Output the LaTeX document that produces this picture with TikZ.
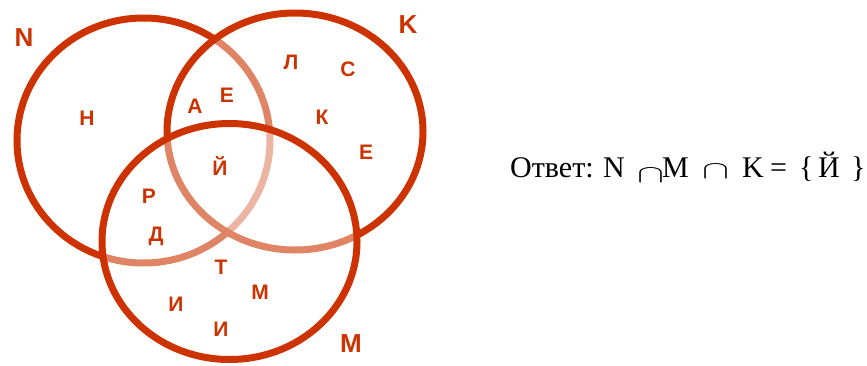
\documentclass[tikz,border=0pt]{standalone}
\usepackage{fontspec}
\setmainfont{Liberation Serif}
\newfontfamily\vennfont{Liberation Sans}
\usepackage{graphicx}
\usepackage{tikz}

\definecolor{vennred}{HTML}{CC3300}
\newcommand{\capsign}{\resizebox{27pt}{14pt}{$\cap$}}

\tikzset{
  ring/.style={draw=vennred, line width=7pt},
  veil/.style={fill=white, fill opacity=0.4},
  letter/.style={text=vennred, inner sep=0pt, font=\vennfont\bfseries\fontsize{21}{21}\selectfont},
  setname/.style={text=vennred, inner sep=0pt, font=\vennfont\bfseries\fontsize{26}{26}\selectfont},
  answer/.style={anchor=base west, inner sep=0pt, font=\fontsize{30}{30}\selectfont},
}

\begin{document}
\begin{tikzpicture}[x=1pt, y=-1pt]
		\useasboundingbox (0,0) rectangle (867,365);
		% the three sets, later ones lie over the earlier ones
		\draw[ring] (143.5,140.5) ellipse [x radius=126.5, y radius=122.5];
		\fill[veil] (295,131.5) ellipse [x radius=128, y radius=118.5];
		\draw[ring] (295,131.5) ellipse [x radius=128, y radius=118.5];
		\fill[veil] (229.5,241.5) ellipse [x radius=127.5, y radius=118];
		\draw[ring] (229.5,241.5) ellipse [x radius=127.5, y radius=118];
		% names of the sets
		\node[setname] (nameN) at (24,38) {N};
		\node[setname] (nameK) at (408,25) {K};
		\node[setname] (nameM) at (351,344) {M};
		% letters
		\node[letter] (n1) at (87,118) {Н};
		\node[letter] (nk1) at (195,106) {А};
		\node[letter] (nk2) at (227,95) {Е};
		\node[letter] (k1) at (291,62) {Л};
		\node[letter] (k2) at (348,69) {С};
		\node[letter] (k3) at (322,117) {К};
		\node[letter] (k4) at (366,152) {Е};
		\node[letter] (nkm1) at (220,166) {Й};
		\node[letter] (nm1) at (149,196) {Р};
		\node[letter] (nm2) at (156,236) {Д};
		\node[letter] (m1) at (221,267) {Т};
		\node[letter] (m2) at (260,292) {М};
		\node[letter] (m3) at (176,304) {И};
		\node[letter] (m4) at (221,329) {И};
		% answer
		\node[answer] (answer) at (510,177.5) {Ответ:};
		\node[answer] (ansN) at (603,177.5) {N};
		\node[answer] (cap1) at (637,182) {\capsign};
		\node[answer] (ansM) at (662,177.5) {M};
		\node[answer] (cap2) at (702,178.5) {\capsign};
		\node[answer] (ansK) at (742,177.5) {K};
		\node[answer] (equal) at (770,177.5) {=};
		\node[answer] (lbrace) at (799,177.5) {\{};
		\node[answer] (ansY) at (818,177.5) {Й};
		\node[answer] (rbrace) at (851,177.5) {\}};
	\end{tikzpicture}
\end{document}
